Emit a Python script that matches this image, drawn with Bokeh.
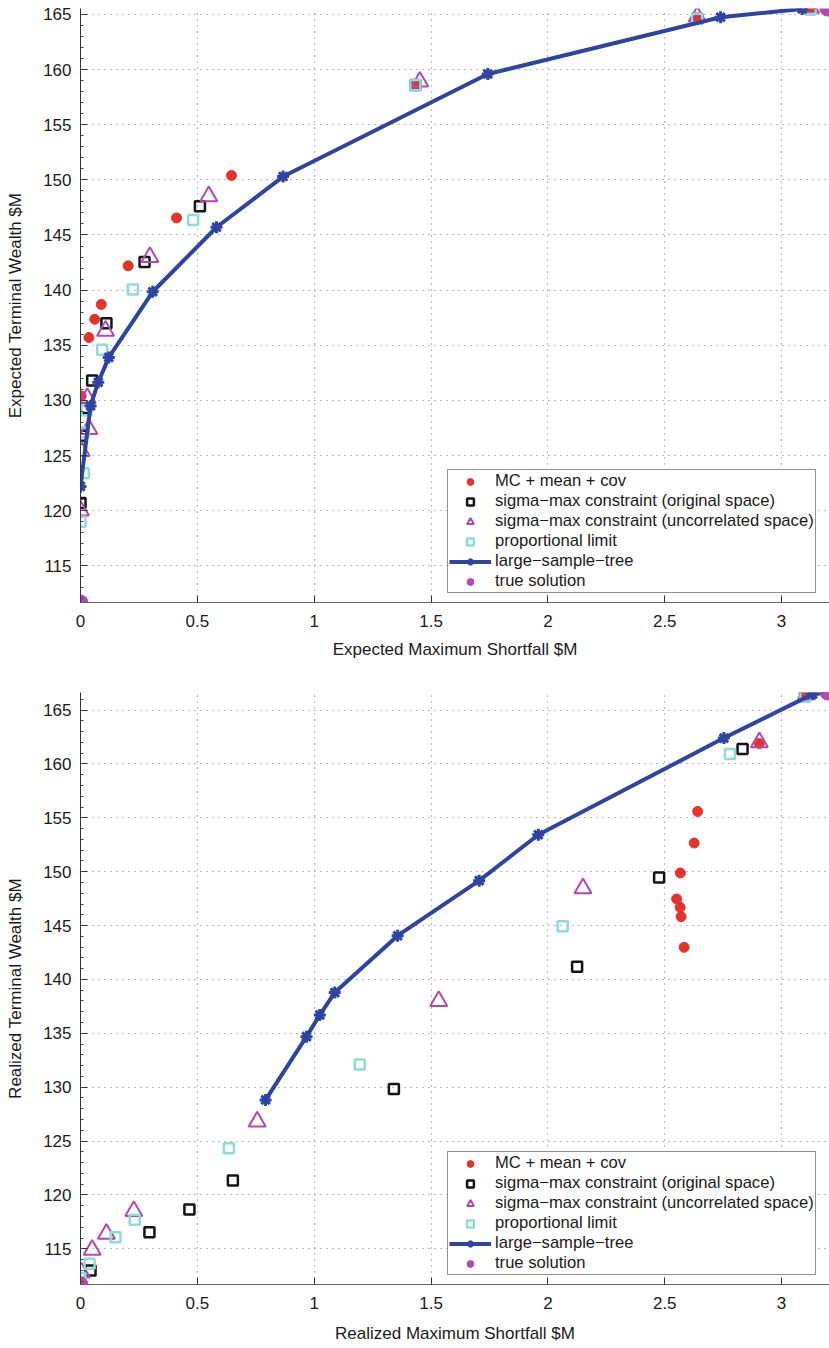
from bokeh.plotting import figure
from bokeh.models import Range1d, FixedTicker, Legend, LegendItem, GlyphRenderer
from bokeh.layouts import column
from bokeh.embed import file_html
from bokeh.resources import INLINE

# ---------------- data: top panel (expected) ----------------
mc_exp_x = [0.003, 0.036, 0.061, 0.089, 0.204, 0.411, 0.646, 1.433, 2.639, 3.124]
mc_exp_y = [130.4, 135.7, 137.35, 138.7, 142.2, 146.55, 150.4, 158.6, 164.55, 165.5]

orig_exp_x = [0.0, 0.004, 0.02, 0.05, 0.111, 0.274, 0.511, 1.433, 2.639, 3.124]
orig_exp_y = [120.7, 126.8, 129.3, 131.8, 137.0, 142.55, 147.6, 158.6, 164.6, 165.5]

unc_exp_x = [0.0, 0.003, 0.036, 0.029, 0.107, 0.297, 0.549, 1.452, 2.639, 3.124]
unc_exp_y = [120.0, 125.4, 127.4, 130.2, 136.3, 143.0, 148.5, 158.9, 164.8, 165.6]

prop_exp_x = [0.0, 0.014, 0.014, 0.026, 0.093, 0.224, 0.482, 1.433, 2.639, 3.124]
prop_exp_y = [119.0, 123.4, 127.1, 129.1, 134.6, 140.05, 146.35, 158.6, 164.6, 165.5]

tree_exp_x = [0.0, 0.043, 0.076, 0.121, 0.309, 0.582, 0.867, 1.743, 2.739, 3.088]
tree_exp_y = [122.2, 129.5, 131.65, 133.9, 139.85, 145.7, 150.3, 159.6, 164.75, 165.5]

true_exp_x = [0.0, 3.196]
true_exp_y = [111.67, 165.54]

# ---------------- data: bottom panel (realized) ----------------
mc_real_x = [2.583, 2.57, 2.566, 2.551, 2.567, 2.626, 2.641, 2.905, 3.10]
mc_real_y = [142.98, 145.83, 146.69, 147.47, 149.88, 152.66, 155.59, 161.9, 166.35]

orig_real_x = [0.043, 0.295, 0.466, 0.652, 1.341, 2.125, 2.476, 2.833, 3.10]
orig_real_y = [113.0, 116.54, 118.65, 121.34, 129.84, 141.19, 149.47, 161.38, 166.3]

unc_real_x = [0.004, 0.05, 0.111, 0.228, 0.756, 1.533, 2.15, 2.905, 3.107]
unc_real_y = [112.8, 114.9, 116.4, 118.5, 126.8, 138.0, 148.45, 162.0, 166.45]

prop_real_x = [0.0, 0.039, 0.15, 0.232, 0.635, 1.195, 2.063, 2.779, 3.102]
prop_real_y = [112.27, 113.61, 116.08, 117.69, 124.33, 132.1, 144.93, 160.92, 166.26]

tree_real_x = [0.792, 0.967, 1.024, 1.088, 1.357, 1.706, 1.959, 2.753, 3.133, 3.195]
tree_real_y = [128.82, 134.69, 136.71, 138.78, 144.06, 149.17, 153.43, 162.4, 166.48, 166.6]

true_real_x = [0.0, 3.197]
true_real_y = [111.69, 166.63]

x_ticks = [0, 0.5, 1, 1.5, 2, 2.5, 3]
y_ticks = [115, 120, 125, 130, 135, 140, 145, 150, 155, 160, 165]
y_minor = list(range(112, 167))

labels = ["MC + mean + cov",
          "sigma\u2212max constraint (original space)",
          "sigma\u2212max constraint (uncorrelated space)",
          "proportional limit",
          "large\u2212sample\u2212tree",
          "true solution"]

FONT = "Liberation Sans"
RED = "#e4332b"
BLK = "#141414"
MAG = "#b646b2"
CYA = "#8edcd6"
BLU = "#2e44a2"

CAN_UNCLIP = "clip" in GlyphRenderer.properties()


def make_panel(height, top_b, bottom_b, xlab_standoff, ymin, ymax, xlabel, ylabel,
               mc, orig, unc, prop, tree, true):
    p = figure(width=829, height=height, output_backend="svg", toolbar_location=None,
               x_range=Range1d(0, 3.205), y_range=Range1d(ymin, ymax),
               min_border_left=80, min_border_right=0,
               min_border_top=top_b, min_border_bottom=bottom_b)
    p.outline_line_color = None
    p.background_fill_color = "white"

    p.xaxis.ticker = FixedTicker(ticks=x_ticks)
    p.yaxis.ticker = FixedTicker(ticks=y_ticks, minor_ticks=y_minor)
    p.xaxis.major_label_overrides = {0: "0", 1: "1", 2: "2", 3: "3"}
    for ax in (p.xaxis, p.yaxis):
        ax.major_tick_in = 7
        ax.major_tick_out = 0
        ax.major_tick_line_color = "#333333"
        ax.major_label_text_font = FONT
        ax.major_label_text_font_size = "17px"
        ax.major_label_text_color = "#1a1a1a"
        ax.axis_label_text_font = FONT
        ax.axis_label_text_font_size = "17px"
        ax.axis_label_text_font_style = "normal"
        ax.axis_label_text_color = "#1a1a1a"
    p.xaxis.minor_tick_line_color = None
    p.yaxis.minor_tick_in = 3
    p.yaxis.minor_tick_out = 0
    p.yaxis.minor_tick_line_color = "#444444"
    p.xaxis.axis_line_color = "#666666"
    p.yaxis.axis_line_color = "#333333"
    p.xaxis.major_label_standoff = 12
    p.yaxis.major_label_standoff = 9
    p.xaxis.axis_label_standoff = xlab_standoff
    p.yaxis.axis_label_standoff = 15
    p.xaxis.axis_label = xlabel
    p.yaxis.axis_label = ylabel

    for g in (p.xgrid, p.ygrid):
        g.grid_line_color = "#777777"
        g.grid_line_dash = "1 5"
        g.grid_line_width = 1

    r_mc = p.scatter(mc[0], mc[1], marker="circle", size=10, fill_color=RED, line_color=RED, line_width=1)
    r_or = p.scatter(orig[0], orig[1], marker="square", size=10, fill_color=None, line_color=BLK, line_width=2.5)
    r_un = p.scatter(unc[0], unc[1], marker="triangle", size=17, fill_color=None, line_color=MAG, line_width=2)
    r_pr = p.scatter(prop[0], prop[1], marker="square", size=10, fill_color=None, line_color=CYA, line_width=2.5)
    r_tl = p.line(tree[0], tree[1], line_color=BLU, line_width=4)
    r_tm = p.scatter(tree[0], tree[1], marker="asterisk", size=12, line_color=BLU, line_width=3)
    r_tr = p.scatter(true[0], true[1], marker="circle", size=15, fill_color=MAG, line_color=MAG)
    if CAN_UNCLIP:
        r_tr.clip = False

    legend = Legend(items=[
        LegendItem(label=labels[0], renderers=[r_mc]),
        LegendItem(label=labels[1], renderers=[r_or]),
        LegendItem(label=labels[2], renderers=[r_un]),
        LegendItem(label=labels[3], renderers=[r_pr]),
        LegendItem(label=labels[4], renderers=[r_tl, r_tm]),
        LegendItem(label=labels[5], renderers=[r_tr]),
    ], location=(367, 9), margin=0)
    legend.label_text_font = FONT
    legend.label_text_font_size = "16.6px"
    legend.label_text_color = "#1a1a1a"
    legend.border_line_color = "#222222"
    legend.border_line_width = 1
    legend.background_fill_color = "white"
    legend.background_fill_alpha = 1.0
    legend.padding = 1
    legend.spacing = 0
    legend.glyph_width = 42
    legend.glyph_height = 17
    legend.label_height = 17
    legend.label_standoff = 4
    p.add_layout(legend)
    return p


p1 = make_panel(680, 8, 78, 10, true_exp_y[0], true_exp_y[1],
                "Expected Maximum Shortfall $M", "Expected Terminal Wealth $M",
                (mc_exp_x, mc_exp_y), (orig_exp_x, orig_exp_y), (unc_exp_x, unc_exp_y),
                (prop_exp_x, prop_exp_y), (tree_exp_x, tree_exp_y), (true_exp_x, true_exp_y))
p2 = make_panel(668, 12, 64, 12, true_real_y[0], true_real_y[1],
                "Realized Maximum Shortfall $M", "Realized Terminal Wealth $M",
                (mc_real_x, mc_real_y), (orig_real_x, orig_real_y), (unc_real_x, unc_real_y),
                (prop_real_x, prop_real_y), (tree_real_x, tree_real_y), (true_real_x, true_real_y))

layout = column(p1, p2, spacing=0)
open("out.html", "w").write(file_html(layout, INLINE))
